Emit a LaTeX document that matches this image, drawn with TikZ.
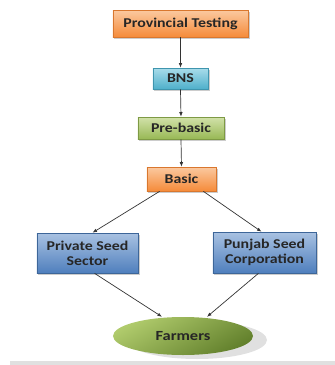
\documentclass[tikz,border=0pt]{standalone}
\usepackage{fontspec}
\setmainfont{Carlito}[FakeStretch=1.18]
\usetikzlibrary{arrows.meta,shadows,shapes.geometric}
\definecolor{orA}{HTML}{FBC9A0}
\definecolor{orB}{HTML}{F58B3A}
\definecolor{orD}{HTML}{D9772E}
\definecolor{cyA}{HTML}{A9DCEA}
\definecolor{cyB}{HTML}{4FB0CB}
\definecolor{cyD}{HTML}{3F95AE}
\definecolor{grA}{HTML}{D2E2AA}
\definecolor{grB}{HTML}{98B855}
\definecolor{grD}{HTML}{7E9A44}
\definecolor{blA}{HTML}{A9C2E2}
\definecolor{blB}{HTML}{4F7FBD}
\definecolor{blD}{HTML}{3D6699}
\definecolor{elA}{HTML}{B0CB6C}
\definecolor{elB}{HTML}{62802C}
\definecolor{txt}{HTML}{262626}
\tikzset{
  boxbase/.style={rectangle, draw, line width=0.6bp, font=\bfseries\fontsize{13.5}{15}\selectfont, text=txt, align=center, inner sep=0pt,
    drop shadow={shadow xshift=1.5bp, shadow yshift=-2bp, fill=black!40, opacity=0.5}},
  orbox/.style={boxbase, top color=orA, bottom color=orB, draw=orD},
  cybox/.style={boxbase, top color=cyA, bottom color=cyB, draw=cyD},
  grbox/.style={boxbase, top color=grA, bottom color=grB, draw=grD},
  blbox/.style={boxbase, top color=blA, bottom color=blB, draw=blD},
  conn/.style={draw=black!80, line width=0.7bp, -{Latex[length=4.5bp,width=3.5bp]}}
}
\begin{document}
\begin{tikzpicture}[x=1bp,y=-1bp]
\useasboundingbox (0,0) rectangle (335,365);
\fill[black!12] (10,361) rectangle (335,365);
\node[orbox, minimum width=135bp, minimum height=27bp] (prov) at (180.5,23.5) {Provincial Testing};
\node[cybox, minimum width=55bp, minimum height=21bp] (bns) at (180.5,78.5) {BNS};
\node[grbox, minimum width=86bp, minimum height=22bp] (pre) at (181,128) {Pre-basic};
\node[orbox, minimum width=69bp, minimum height=24bp] (basic) at (181.5,179) {Basic};
\node[blbox, minimum width=101bp, minimum height=40bp] (priv) at (87.5,253) {Private Seed\\Sector};
\node[blbox, minimum width=103bp, minimum height=41bp] (punj) at (264.5,252.5) {Punjab Seed\\Corporation};
\node[ellipse, minimum width=140bp, minimum height=38bp, inner sep=0pt,
  top color=elA, bottom color=elB, shading angle=30,
  drop shadow={shadow xshift=14bp, shadow yshift=-4bp, fill=black!30, opacity=0.4},
  font=\bfseries\fontsize{14}{15}\selectfont, text=txt] (farm) at (183,336) {Farmers};
\draw[conn] (prov.south) -- (bns.north);
\draw[conn] (bns.south) -- (pre.north);
\draw[conn] (pre.south) -- (basic.north);
\draw[conn] ([xshift=13bp]basic.south west) -- ([xshift=5bp]priv.north);
\draw[conn] ([xshift=-13bp]basic.south east) -- ([xshift=-3bp]punj.north);
\draw[conn] ([xshift=7bp]priv.south) -- ([xshift=-21bp]farm.north);
\draw[conn] ([xshift=-6bp]punj.south) -- ([xshift=24bp]farm.north);
\end{tikzpicture}
\end{document}
